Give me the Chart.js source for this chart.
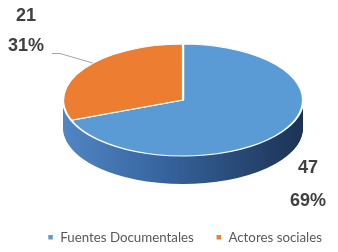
<!DOCTYPE html>
<html><head><meta charset="utf-8">
<script src="https://cdn.jsdelivr.net/npm/chart.js@4"></script>
<style>html,body{margin:0;padding:0;background:#fff}#wrap{width:338px;height:252px}</style>
</head><body><div id="wrap"><canvas id="c"></canvas></div>
<script>
const categories = ['Fuentes Documentales', 'Actores sociales'];
const counts = [47, 21];
const percentLabels = ['69%', '31%'];
const topColors = ['#5b9bd5', '#ed7d31'];

const TILT = 0.467;
const DEPTH = 28;

function geom(chart) {
  const ca = chart.chartArea;
  const W = chart.width;
  const rx = W * 0.355, ry = rx * TILT;
  const cx = W * 0.5415;
  return {ca, rx, ry, cx, cy: ca.top + ry, left: cx - rx, right: cx + rx};
}

const pie3d = {
  id: 'pie3d',
  beforeDatasetsDraw(chart) {
    const ctx = chart.ctx;
    const arcs = chart.getDatasetMeta(0).data;
    const {rx, ry, cx, cy} = geom(chart);
    const r = arcs[0].outerRadius;
    const sx = rx / r, sy = ry / r;
    const a0 = arcs[0];
    const grad = ctx.createLinearGradient(a0.x - r, 0, a0.x + r, 0);
    grad.addColorStop(0, '#5086c4');
    grad.addColorStop(0.45, '#35619a');
    grad.addColorStop(1, '#1c3354');
    const drawAt = (dy, extra) => {
      arcs.forEach((a, i) => {
        ctx.save();
        ctx.translate(cx, cy + dy);
        ctx.scale(sx, sy);
        ctx.translate(-a.x, -a.y);
        const f = Object.create(a);
        f.options = Object.assign({}, a.options, extra(i));
        Chart.ArcElement.prototype.draw.call(f, ctx);
        ctx.restore();
      });
    };
    for (let d = DEPTH; d > 0; d--) drawAt(d, () => ({backgroundColor: grad, borderWidth: 0}));
    drawAt(0, () => ({}));
    return false;
  },
  afterDraw(chart) {
    const ctx = chart.ctx;
    const {ca, rx, ry, cx, cy, left, right} = geom(chart);
    const arcs = chart.getDatasetMeta(0).data;
    ctx.save();
    ctx.font = 'bold 18px "Liberation Sans", Arial, sans-serif';
    ctx.fillStyle = '#404040';
    ctx.textAlign = 'center';
    ctx.textBaseline = 'middle';
    ctx.fillText(String(counts[1]), left - 37, ca.top - 28);
    ctx.fillText(percentLabels[1], left - 37, ca.top + 2);
    ctx.fillText(String(counts[0]), right + 5, cy + ry + 12);
    ctx.fillText(percentLabels[0], right + 5, cy + ry + 45);
    const o = arcs[1];
    const m = (o.startAngle + o.endAngle) / 2 + 0.12;
    const px = cx + rx * Math.cos(m), py = cy + ry * Math.sin(m);
    ctx.strokeStyle = '#a6a6a6';
    ctx.lineWidth = 1;
    ctx.beginPath();
    ctx.moveTo(left - 11, ca.top + 9.5);
    ctx.lineTo(left - 3, ca.top + 9.5);
    ctx.lineTo(px, py);
    ctx.stroke();
    ctx.restore();
  }
};

new Chart(document.getElementById('c'), {
  type: 'pie',
  data: {
    labels: categories,
    datasets: [{
      data: counts,
      backgroundColor: topColors,
      borderColor: '#ffffff',
      borderWidth: 1.5
    }]
  },
  options: {
    responsive: true,
    maintainAspectRatio: false,
    animation: false,
    layout: {padding: {left: 0, right: -6, top: 44, bottom: -2}},
    plugins: {
      tooltip: {enabled: false},
      legend: {
        position: 'bottom',
        align: 'end',
        labels: {
          boxWidth: 6, boxHeight: 6, padding: 22,
          color: '#595959',
          font: {family: 'Lato', size: 13.3}
        }
      }
    }
  },
  plugins: [pie3d]
});
</script>
</body></html>
